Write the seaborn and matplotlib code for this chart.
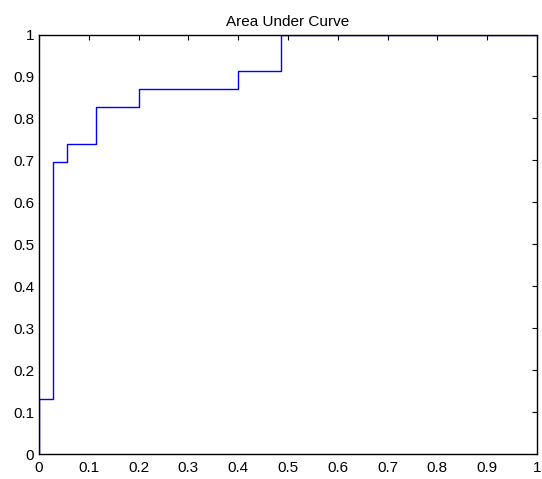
import matplotlib
matplotlib.use("Agg")
import matplotlib.pyplot as plt
import seaborn as sns
import pandas as pd

# ROC-style step curve values
fpr = [0.0, 0.0, 0.0286, 0.0571, 0.1143, 0.2, 0.4, 0.4857, 1.0]
tpr = [0.0, 0.13, 0.696, 0.739, 0.826, 0.870, 0.913, 1.0, 1.0]
xticks = [0, 0.1, 0.2, 0.3, 0.4, 0.5, 0.6, 0.7, 0.8, 0.9, 1]
yticks = [0, 0.1, 0.2, 0.3, 0.4, 0.5, 0.6, 0.7, 0.8, 0.9, 1]
xtick_labels = ["0", "0.1", "0.2", "0.3", "0.4", "0.5", "0.6", "0.7", "0.8", "0.9", "1"]
ytick_labels = ["0", "0.1", "0.2", "0.3", "0.4", "0.5", "0.6", "0.7", "0.8", "0.9", "1"]
title = "Area Under Curve"

sns.set_style("white")
plt.rcParams["font.family"] = ["Liberation Sans", "DejaVu Sans"]

df = pd.DataFrame({"fpr": fpr, "tpr": tpr})

W, H = 542, 479
left, right, top, bottom = 39, 537, 34.5, 454
fig = plt.figure(figsize=(W / 100, H / 100), dpi=100)
ax = fig.add_axes([left / W, 1 - bottom / H, (right - left) / W, (bottom - top) / H])
sns.lineplot(data=df, x="fpr", y="tpr", ax=ax, sort=False, estimator=None,
             drawstyle="steps-post", color="#0000ff", linewidth=1.0)

ax.set_xlim(0, 1)
ax.set_ylim(0, 1)
ax.set_xticks(xticks)
ax.set_xticklabels(xtick_labels)
ax.set_yticks(yticks)
ax.set_yticklabels(ytick_labels)
ax.set_xlabel("")
ax.set_ylabel("")
ax.set_title(title, fontsize=11, pad=6, color="black")
ax.tick_params(direction="in", length=3.6, width=0.8, color="black",
               top=True, right=True, labelsize=11, labelcolor="black")
ax.tick_params(axis="x", pad=5)
ax.tick_params(axis="y", pad=3.5)
for s in ax.spines.values():
    s.set_visible(True)
    s.set_color("black")
    s.set_linewidth(1.0)
ax.grid(False)

fig.savefig("out.png", dpi=100, facecolor="white")
